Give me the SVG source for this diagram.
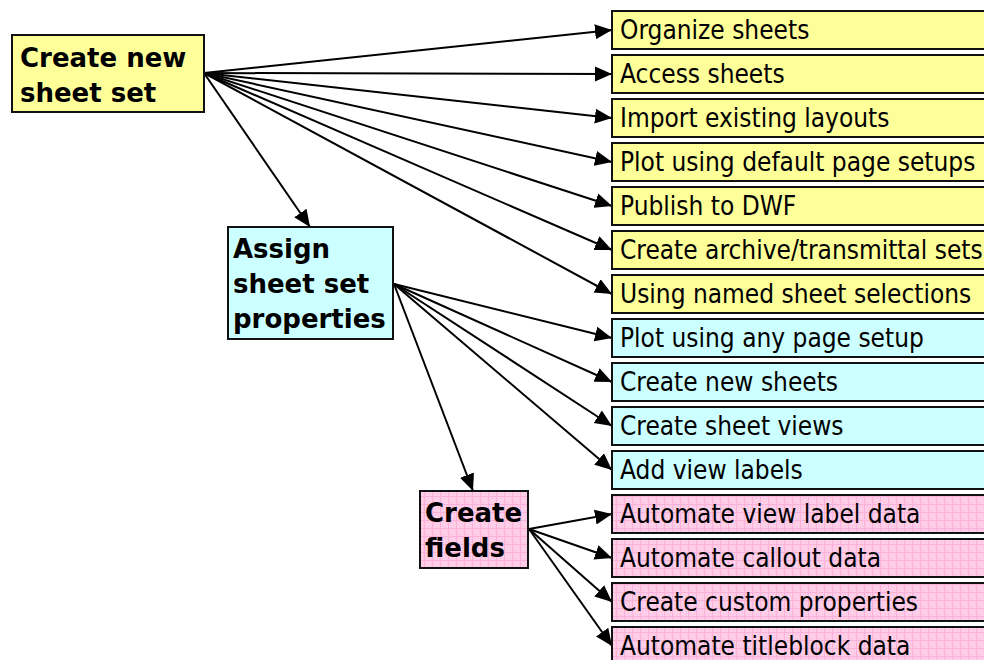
<svg xmlns="http://www.w3.org/2000/svg" width="984" height="660" viewBox="0 0 984 660">
<style>
.box{stroke:#111;stroke-width:2}
.y{fill:#FFFF99}
.c{fill:#CCFFFF}
.p{fill:url(#grid)}
.t{font-family:"DejaVu Sans Condensed","DejaVu Sans","Liberation Sans",sans-serif;font-stretch:condensed;font-size:26px;fill:#000}
.b{font-family:"DejaVu Sans","Liberation Sans",sans-serif;font-weight:bold;font-size:26px;fill:#000}
.conn{stroke:#000;stroke-width:2;fill:none;marker-end:url(#arr)}
</style>
<defs>
<marker id="arr" markerUnits="userSpaceOnUse" markerWidth="18" markerHeight="16" refX="17" refY="8" orient="auto">
<path d="M0,0.5 L17,8 L0,15.5 z" fill="#000"/>
</marker>
<pattern id="grid" patternUnits="userSpaceOnUse" width="8" height="8">
<rect width="8" height="8" fill="#FFCCE8"/>
<path d="M0,0.5 H8 M0.5,0 V8" stroke="#FAB2D8" stroke-width="1"/>
<rect x="4" y="4" width="1" height="1" fill="#FFE2F1"/>
</pattern>
</defs>
<rect width="984" height="660" fill="#fff"/>
<g id="connectors">
<line class="conn" x1="204" y1="73" x2="612" y2="30"/>
<line class="conn" x1="204" y1="73" x2="612" y2="74"/>
<line class="conn" x1="204" y1="73" x2="612" y2="118"/>
<line class="conn" x1="204" y1="73" x2="612" y2="162"/>
<line class="conn" x1="204" y1="73" x2="612" y2="206"/>
<line class="conn" x1="204" y1="73" x2="612" y2="250"/>
<line class="conn" x1="204" y1="73" x2="612" y2="294"/>
<line class="conn" x1="204" y1="73" x2="310" y2="227"/>
<line class="conn" x1="394" y1="284" x2="612" y2="338"/>
<line class="conn" x1="394" y1="284" x2="612" y2="382"/>
<line class="conn" x1="394" y1="284" x2="612" y2="426"/>
<line class="conn" x1="394" y1="284" x2="612" y2="470"/>
<line class="conn" x1="394" y1="284" x2="473" y2="491"/>
<line class="conn" x1="529" y1="529" x2="612" y2="514"/>
<line class="conn" x1="529" y1="529" x2="612" y2="558"/>
<line class="conn" x1="529" y1="529" x2="612" y2="602"/>
<line class="conn" x1="529" y1="529" x2="612" y2="646"/>
</g>
<g id="create-new-sheet-set">
<rect class="box y" x="12" y="35" width="192" height="77"/>
<text class="b" x="20" y="67">Create new</text>
<text class="b" x="20" y="102">sheet set</text>
</g>
<g id="assign-properties">
<rect class="box c" x="228" y="227" width="165" height="112"/>
<text class="b" x="233" y="258">Assign</text>
<text class="b" x="233" y="293">sheet set</text>
<text class="b" x="233" y="328">properties</text>
</g>
<g id="create-fields">
<rect class="box p" x="420" y="491" width="108" height="77"/>
<text class="b" x="425" y="522">Create</text>
<text class="b" x="425" y="557">fields</text>
</g>
<g id="organize-sheets"><rect class="box y" x="612" y="11" width="400" height="38"/><text class="t" x="620" y="39">Organize sheets</text></g>
<g id="access-sheets"><rect class="box y" x="612" y="55" width="400" height="38"/><text class="t" x="620" y="83">Access sheets</text></g>
<g id="import-layouts"><rect class="box y" x="612" y="99" width="400" height="38"/><text class="t" x="620" y="127">Import existing layouts</text></g>
<g id="plot-default"><rect class="box y" x="612" y="143" width="400" height="38"/><text class="t" x="620" y="171">Plot using default page setups</text></g>
<g id="publish-dwf"><rect class="box y" x="612" y="187" width="400" height="38"/><text class="t" x="620" y="215">Publish to DWF</text></g>
<g id="archive-sets"><rect class="box y" x="612" y="231" width="400" height="38"/><text class="t" x="620" y="259">Create archive/transmittal sets</text></g>
<g id="named-selections"><rect class="box y" x="612" y="275" width="400" height="38"/><text class="t" x="620" y="303">Using named sheet selections</text></g>
<g id="plot-any"><rect class="box c" x="612" y="319" width="400" height="38"/><text class="t" x="620" y="347">Plot using any page setup</text></g>
<g id="create-new-sheets"><rect class="box c" x="612" y="363" width="400" height="38"/><text class="t" x="620" y="391">Create new sheets</text></g>
<g id="create-sheet-views"><rect class="box c" x="612" y="407" width="400" height="38"/><text class="t" x="620" y="435">Create sheet views</text></g>
<g id="add-view-labels"><rect class="box c" x="612" y="451" width="400" height="38"/><text class="t" x="620" y="479">Add view labels</text></g>
<g id="automate-view-label"><rect class="box p" x="612" y="495" width="400" height="38"/><text class="t" x="620" y="523">Automate view label data</text></g>
<g id="automate-callout"><rect class="box p" x="612" y="539" width="400" height="38"/><text class="t" x="620" y="567">Automate callout data</text></g>
<g id="custom-properties"><rect class="box p" x="612" y="583" width="400" height="38"/><text class="t" x="620" y="611">Create custom properties</text></g>
<g id="automate-titleblock"><rect class="box p" x="612" y="627" width="400" height="38"/><text class="t" x="620" y="655">Automate titleblock data</text></g>
</svg>
